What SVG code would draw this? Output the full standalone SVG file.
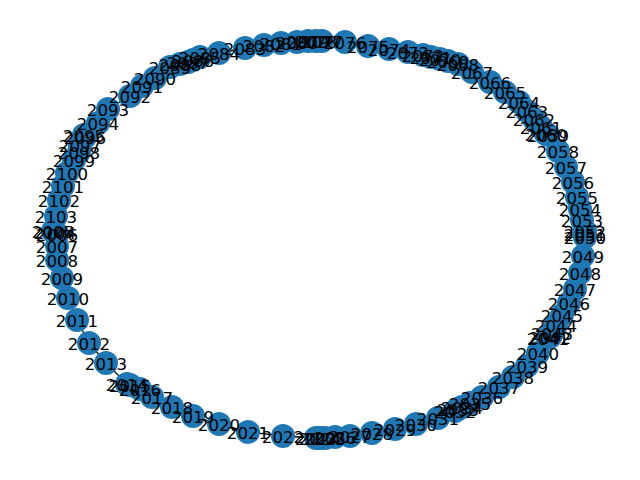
<svg xmlns="http://www.w3.org/2000/svg" width="640" height="480" viewBox="0 0 640 480">
<style>
.node circle{fill:#1f77b4}
.lbl text{font-family:"DejaVu Sans",sans-serif;font-size:16.67px;fill:#000;text-anchor:middle;dominant-baseline:central}
.edges polyline{fill:none;stroke:#000;stroke-width:1.3}
</style>
<rect width="640" height="480" fill="#fff"/>
<g id="edges" class="edges">
<polyline points="53,231 57,234 57,246 57,260 62,278 68,298 77,320 89,343 106,363 127,384 130,385 140,389 152,397 172,407 193,416 219,424 248,432 283,436 316,438 320,438 325,438 335,437 350,436 372,433 395,429 416,424 438,418 455,411 458,409 462,407 470,403 482,397 499,387 513,377 527,366 538,353 548,338 550,337 552,333 556,325 562,315 569,303 575,289 580,273 583,256 585,237 585,234 585,231 582,220 580,209 577,197 573,182 566,167 558,151 548,135 546,134 541,127 534,119 527,111 519,102 505,92 490,82 472,72 458,64 448,61 440,59 431,57 423,55 408,52 389,49 368,46 345,42 322,41 316,41 308,41 297,42 281,43 264,45 245,48 219,53 200,57 193,60 188,62 180,64 170,67 155,78 142,86 130,96 108,109 98,123 84,135 85,137 80,145 79,152 74,160 67,173 63,186 59,200 56,216 55,232 53,231"/>
</g>
<g id="nodes">
<g id="node-2005" class="node"><circle cx="53" cy="231" r="12"/></g>
<g id="node-2006" class="node"><circle cx="57" cy="234" r="12"/></g>
<g id="node-2007" class="node"><circle cx="57" cy="246" r="12"/></g>
<g id="node-2008" class="node"><circle cx="57" cy="260" r="12"/></g>
<g id="node-2009" class="node"><circle cx="62" cy="278" r="12"/></g>
<g id="node-2010" class="node"><circle cx="68" cy="298" r="12"/></g>
<g id="node-2011" class="node"><circle cx="77" cy="320" r="12"/></g>
<g id="node-2012" class="node"><circle cx="89" cy="343" r="12"/></g>
<g id="node-2013" class="node"><circle cx="106" cy="363" r="12"/></g>
<g id="node-2014" class="node"><circle cx="127" cy="384" r="12"/></g>
<g id="node-2015" class="node"><circle cx="130" cy="385" r="12"/></g>
<g id="node-2016" class="node"><circle cx="140" cy="389" r="12"/></g>
<g id="node-2017" class="node"><circle cx="152" cy="397" r="12"/></g>
<g id="node-2018" class="node"><circle cx="172" cy="407" r="12"/></g>
<g id="node-2019" class="node"><circle cx="193" cy="416" r="12"/></g>
<g id="node-2020" class="node"><circle cx="219" cy="424" r="12"/></g>
<g id="node-2021" class="node"><circle cx="248" cy="432" r="12"/></g>
<g id="node-2022" class="node"><circle cx="283" cy="436" r="12"/></g>
<g id="node-2023" class="node"><circle cx="316" cy="438" r="12"/></g>
<g id="node-2024" class="node"><circle cx="320" cy="438" r="12"/></g>
<g id="node-2025" class="node"><circle cx="325" cy="438" r="12"/></g>
<g id="node-2026" class="node"><circle cx="335" cy="437" r="12"/></g>
<g id="node-2027" class="node"><circle cx="350" cy="436" r="12"/></g>
<g id="node-2028" class="node"><circle cx="372" cy="433" r="12"/></g>
<g id="node-2029" class="node"><circle cx="395" cy="429" r="12"/></g>
<g id="node-2030" class="node"><circle cx="416" cy="424" r="12"/></g>
<g id="node-2031" class="node"><circle cx="438" cy="418" r="12"/></g>
<g id="node-2032" class="node"><circle cx="455" cy="411" r="12"/></g>
<g id="node-2033" class="node"><circle cx="458" cy="409" r="12"/></g>
<g id="node-2034" class="node"><circle cx="462" cy="407" r="12"/></g>
<g id="node-2035" class="node"><circle cx="470" cy="403" r="12"/></g>
<g id="node-2036" class="node"><circle cx="482" cy="397" r="12"/></g>
<g id="node-2037" class="node"><circle cx="499" cy="387" r="12"/></g>
<g id="node-2038" class="node"><circle cx="513" cy="377" r="12"/></g>
<g id="node-2039" class="node"><circle cx="527" cy="366" r="12"/></g>
<g id="node-2040" class="node"><circle cx="538" cy="353" r="12"/></g>
<g id="node-2041" class="node"><circle cx="548" cy="338" r="12"/></g>
<g id="node-2042" class="node"><circle cx="550" cy="337" r="12"/></g>
<g id="node-2043" class="node"><circle cx="552" cy="333" r="12"/></g>
<g id="node-2044" class="node"><circle cx="556" cy="325" r="12"/></g>
<g id="node-2045" class="node"><circle cx="562" cy="315" r="12"/></g>
<g id="node-2046" class="node"><circle cx="569" cy="303" r="12"/></g>
<g id="node-2047" class="node"><circle cx="575" cy="289" r="12"/></g>
<g id="node-2048" class="node"><circle cx="580" cy="273" r="12"/></g>
<g id="node-2049" class="node"><circle cx="583" cy="256" r="12"/></g>
<g id="node-2050" class="node"><circle cx="585" cy="237" r="12"/></g>
<g id="node-2051" class="node"><circle cx="585" cy="234" r="12"/></g>
<g id="node-2052" class="node"><circle cx="585" cy="231" r="12"/></g>
<g id="node-2053" class="node"><circle cx="582" cy="220" r="12"/></g>
<g id="node-2054" class="node"><circle cx="580" cy="209" r="12"/></g>
<g id="node-2055" class="node"><circle cx="577" cy="197" r="12"/></g>
<g id="node-2056" class="node"><circle cx="573" cy="182" r="12"/></g>
<g id="node-2057" class="node"><circle cx="566" cy="167" r="12"/></g>
<g id="node-2058" class="node"><circle cx="558" cy="151" r="12"/></g>
<g id="node-2059" class="node"><circle cx="548" cy="135" r="12"/></g>
<g id="node-2060" class="node"><circle cx="546" cy="134" r="12"/></g>
<g id="node-2061" class="node"><circle cx="541" cy="127" r="12"/></g>
<g id="node-2062" class="node"><circle cx="534" cy="119" r="12"/></g>
<g id="node-2063" class="node"><circle cx="527" cy="111" r="12"/></g>
<g id="node-2064" class="node"><circle cx="519" cy="102" r="12"/></g>
<g id="node-2065" class="node"><circle cx="505" cy="92" r="12"/></g>
<g id="node-2066" class="node"><circle cx="490" cy="82" r="12"/></g>
<g id="node-2067" class="node"><circle cx="472" cy="72" r="12"/></g>
<g id="node-2068" class="node"><circle cx="458" cy="64" r="12"/></g>
<g id="node-2069" class="node"><circle cx="448" cy="61" r="12"/></g>
<g id="node-2070" class="node"><circle cx="440" cy="59" r="12"/></g>
<g id="node-2071" class="node"><circle cx="431" cy="57" r="12"/></g>
<g id="node-2072" class="node"><circle cx="423" cy="55" r="12"/></g>
<g id="node-2073" class="node"><circle cx="408" cy="52" r="12"/></g>
<g id="node-2074" class="node"><circle cx="389" cy="49" r="12"/></g>
<g id="node-2075" class="node"><circle cx="368" cy="46" r="12"/></g>
<g id="node-2076" class="node"><circle cx="345" cy="42" r="12"/></g>
<g id="node-2077" class="node"><circle cx="322" cy="41" r="12"/></g>
<g id="node-2078" class="node"><circle cx="316" cy="41" r="12"/></g>
<g id="node-2079" class="node"><circle cx="308" cy="41" r="12"/></g>
<g id="node-2080" class="node"><circle cx="297" cy="42" r="12"/></g>
<g id="node-2081" class="node"><circle cx="281" cy="43" r="12"/></g>
<g id="node-2082" class="node"><circle cx="264" cy="45" r="12"/></g>
<g id="node-2083" class="node"><circle cx="245" cy="48" r="12"/></g>
<g id="node-2084" class="node"><circle cx="219" cy="53" r="12"/></g>
<g id="node-2085" class="node"><circle cx="200" cy="57" r="12"/></g>
<g id="node-2086" class="node"><circle cx="193" cy="60" r="12"/></g>
<g id="node-2087" class="node"><circle cx="188" cy="62" r="12"/></g>
<g id="node-2088" class="node"><circle cx="180" cy="64" r="12"/></g>
<g id="node-2089" class="node"><circle cx="170" cy="67" r="12"/></g>
<g id="node-2090" class="node"><circle cx="155" cy="78" r="12"/></g>
<g id="node-2091" class="node"><circle cx="142" cy="86" r="12"/></g>
<g id="node-2092" class="node"><circle cx="130" cy="96" r="12"/></g>
<g id="node-2093" class="node"><circle cx="108" cy="109" r="12"/></g>
<g id="node-2094" class="node"><circle cx="98" cy="123" r="12"/></g>
<g id="node-2095" class="node"><circle cx="84" cy="135" r="12"/></g>
<g id="node-2096" class="node"><circle cx="85" cy="137" r="12"/></g>
<g id="node-2097" class="node"><circle cx="80" cy="145" r="12"/></g>
<g id="node-2098" class="node"><circle cx="79" cy="152" r="12"/></g>
<g id="node-2099" class="node"><circle cx="74" cy="160" r="12"/></g>
<g id="node-2100" class="node"><circle cx="67" cy="173" r="12"/></g>
<g id="node-2101" class="node"><circle cx="63" cy="186" r="12"/></g>
<g id="node-2102" class="node"><circle cx="59" cy="200" r="12"/></g>
<g id="node-2103" class="node"><circle cx="56" cy="216" r="12"/></g>
<g id="node-2104" class="node"><circle cx="55" cy="232" r="12"/></g>
</g>
<g id="labels" class="lbl" transform="translate(0,1.5)">
<text x="53" y="231">2005</text><text x="57" y="234">2006</text><text x="57" y="246">2007</text><text x="57" y="260">2008</text><text x="62" y="278">2009</text><text x="68" y="298">2010</text><text x="77" y="320">2011</text><text x="89" y="343">2012</text><text x="106" y="363">2013</text><text x="127" y="384">2014</text><text x="130" y="385">2015</text><text x="140" y="389">2016</text><text x="152" y="397">2017</text><text x="172" y="407">2018</text><text x="193" y="416">2019</text><text x="219" y="424">2020</text><text x="248" y="432">2021</text><text x="283" y="436">2022</text><text x="316" y="438">2023</text><text x="320" y="438">2024</text><text x="325" y="438">2025</text><text x="335" y="437">2026</text><text x="350" y="436">2027</text><text x="372" y="433">2028</text><text x="395" y="429">2029</text><text x="416" y="424">2030</text><text x="438" y="418">2031</text><text x="455" y="411">2032</text><text x="458" y="409">2033</text><text x="462" y="407">2034</text><text x="470" y="403">2035</text><text x="482" y="397">2036</text><text x="499" y="387">2037</text><text x="513" y="377">2038</text><text x="527" y="366">2039</text><text x="538" y="353">2040</text><text x="548" y="338">2041</text><text x="550" y="337">2042</text><text x="552" y="333">2043</text><text x="556" y="325">2044</text><text x="562" y="315">2045</text><text x="569" y="303">2046</text><text x="575" y="289">2047</text><text x="580" y="273">2048</text><text x="583" y="256">2049</text><text x="585" y="237">2050</text><text x="585" y="234">2051</text><text x="585" y="231">2052</text><text x="582" y="220">2053</text><text x="580" y="209">2054</text><text x="577" y="197">2055</text><text x="573" y="182">2056</text><text x="566" y="167">2057</text><text x="558" y="151">2058</text><text x="548" y="135">2059</text><text x="546" y="134">2060</text><text x="541" y="127">2061</text><text x="534" y="119">2062</text><text x="527" y="111">2063</text><text x="519" y="102">2064</text><text x="505" y="92">2065</text><text x="490" y="82">2066</text><text x="472" y="72">2067</text><text x="458" y="64">2068</text><text x="448" y="61">2069</text><text x="440" y="59">2070</text><text x="431" y="57">2071</text><text x="423" y="55">2072</text><text x="408" y="52">2073</text><text x="389" y="49">2074</text><text x="368" y="46">2075</text><text x="345" y="42">2076</text><text x="322" y="41">2077</text><text x="316" y="41">2078</text><text x="308" y="41">2079</text><text x="297" y="42">2080</text><text x="281" y="43">2081</text><text x="264" y="45">2082</text><text x="245" y="48">2083</text><text x="219" y="53">2084</text><text x="200" y="57">2085</text><text x="193" y="60">2086</text><text x="188" y="62">2087</text><text x="180" y="64">2088</text><text x="170" y="67">2089</text><text x="155" y="78">2090</text><text x="142" y="86">2091</text><text x="130" y="96">2092</text><text x="108" y="109">2093</text><text x="98" y="123">2094</text><text x="84" y="135">2095</text><text x="85" y="137">2096</text><text x="80" y="145">2097</text><text x="79" y="152">2098</text><text x="74" y="160">2099</text><text x="67" y="173">2100</text><text x="63" y="186">2101</text><text x="59" y="200">2102</text><text x="56" y="216">2103</text><text x="55" y="232">2104</text>
</g>
</svg>
